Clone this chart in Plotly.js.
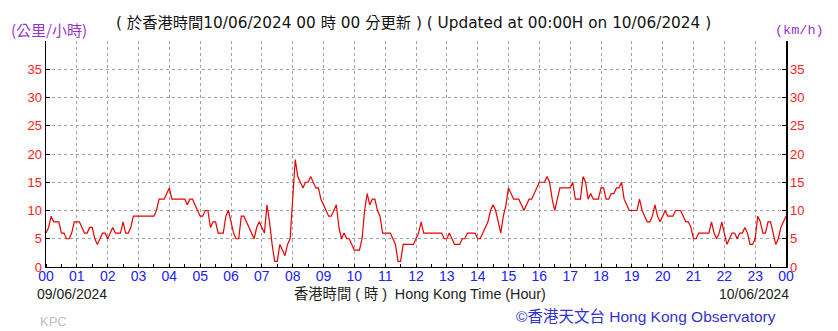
<!DOCTYPE html>
<html>
<head>
<meta charset="utf-8">
<script src="https://cdn.plot.ly/plotly-3.0.1.min.js"></script>
<style>
html,body{margin:0;padding:0;background:#fff;}
#chart{width:838px;height:331px;}
</style>
</head>
<body>
<div id="chart"></div>
<script>
// 5-minute mean wind speed (km/h), 09/06/2024 00:00 -> 10/06/2024 00:00
const windSpeed = [
  6,7,9,8,8,8,6,6,5,5,
  6,8,8,8,7,6,6,7,7,5,
  4,5,6,6,5,6,7,6,6,6,
  8,6,6,7,9,9,9,9,9,9,
  9,9,9,10,12,12,12,13,14,12,
  12,12,12,12,12,11,12,12,11,10,
  9,9,10,10,7,8,8,6,6,6,
  9,10,8,6,5,5,9,9,8,7,
  6,5,7,8,7,6,11,8,4,1,
  1,4,3,2,4,5,12,19,16,15,
  14,15,15,16,15,14,14,12,11,10,
  9,9,10,11,7,5,6,5,5,4,
  3,3,3,5,10,13,11,12,12,10,
  9,6,6,6,6,5,4,1,1,4,
  4,4,4,4,5,6,8,6,6,6,
  6,6,6,6,6,5,5,6,5,4,
  4,4,5,5,6,6,6,6,5,5,
  6,7,8,10,11,10,8,6,9,11,
  14,13,12,12,12,11,10,11,12,12,
  13,14,15,15,15,16,15,12,10,12,
  14,14,14,14,14,15,12,12,12,16,
  15,12,13,12,12,12,14,14,12,12,
  13,13,14,14,15,12,11,10,10,10,
  10,12,10,9,8,8,9,11,9,8,
  9,10,9,9,9,10,10,10,9,8,
  8,7,5,5,6,6,6,6,6,8,
  6,5,6,8,6,4,5,6,6,5,
  6,6,7,6,4,4,5,9,8,6,
  6,8,8,6,4,5,7,8,9
];
const stepMinutes = 5;
const hourLabels = ['00','01','02','03','04','05','06','07','08','09','10','11',
                    '12','13','14','15','16','17','18','19','20','21','22','23','00'];
const speedTicks = [0,5,10,15,20,25,30,35];

const hours = windSpeed.map((v,i)=> i*stepMinutes/60);
const hourVals = hourLabels.map((_,i)=>i);

// plot box in pixels
const L=46, R=786, T=41, B=267.5, W=838, H=331;
const px = x => (x-L)/(R-L);
const py = y => (B-y)/(B-T);

const trace = {
  x: hours, y: windSpeed, type:'scatter', mode:'lines',
  line:{color:'#e60000', width:1.2, shape:'linear'},
  hoverinfo:'skip', showlegend:false
};
const ghost = {
  x:[0,24], y:[0,0], yaxis:'y2', type:'scatter', mode:'lines',
  line:{width:0}, hoverinfo:'skip', showlegend:false
};

const gridCol = '#a0a0a0';
const layout = {
  width:W, height:H,
  margin:{l:L, r:W-R, t:T, b:H-B, pad:0},
  paper_bgcolor:'#ffffff', plot_bgcolor:'#ffffff',
  showlegend:false,
  xaxis:{
    range:[0,24], tickmode:'array', tickvals:hourVals, ticktext:hourLabels,
    showgrid:true, gridcolor:gridCol, griddash:'dot', gridwidth:1,
    showline:true, linecolor:'#000', linewidth:1, mirror:false,
    zeroline:false, ticks:'', ticklen:0, ticklabelstandoff:-4,
    tickfont:{family:'Liberation Sans, Arial, sans-serif', size:14, color:'#2020ff'},
    minor:{dtick:0.5, tick0:0, ticks:'inside', ticklen:3, tickcolor:'#000', showgrid:false},
    fixedrange:true
  },
  yaxis:{
    range:[0,40], tickmode:'array', tickvals:speedTicks,
    showgrid:true, gridcolor:gridCol, griddash:'dot', gridwidth:1,
    showline:true, linecolor:'#000', linewidth:1.5,
    zeroline:false, ticks:'inside', ticklen:4, tickcolor:'#000',
    tickfont:{family:'Liberation Sans, Arial, sans-serif', size:13, color:'#ff2020'},
    fixedrange:true
  },
  yaxis2:{
    range:[0,40], overlaying:'y', side:'right', tickmode:'array', tickvals:speedTicks,
    showgrid:false, showline:true, linecolor:'#000', linewidth:1.5,
    zeroline:false, ticks:'inside', ticklen:4, tickcolor:'#000',
    tickfont:{family:'Liberation Sans, Arial, sans-serif', size:13, color:'#ff2020'},
    fixedrange:true
  },
  annotations:[
    {text:'(公里/小時)', xref:'paper', yref:'paper', x:px(49), y:py(29), xanchor:'center', yanchor:'middle',
     showarrow:false, font:{family:'Noto Sans CJK TC, sans-serif', size:15, color:'#9933cc'}},
    {text:'( 於香港時間10/06/2024 00 時 00 分更新 ) ( Updated at 00:00H on 10/06/2024 )',
     xref:'paper', yref:'paper', x:px(413), y:py(23), xanchor:'center', yanchor:'middle',
     showarrow:false, font:{family:'DejaVu Sans, Noto Sans CJK TC, sans-serif', size:15.3, color:'#111'}},
    {text:'(km/h)', xref:'paper', yref:'paper', x:px(799), y:py(30), xanchor:'center', yanchor:'middle',
     showarrow:false, font:{family:'Liberation Mono, Courier New, monospace', size:13.5, color:'#9933cc'}},
    {text:'09/06/2024', xref:'paper', yref:'paper', x:px(35), y:py(295), xanchor:'left', yanchor:'middle',
     showarrow:false, font:{family:'Liberation Sans, Arial, sans-serif', size:14, color:'#222'}},
    {text:'香港時間 ( 時 )  Hong Kong Time (Hour)', xref:'paper', yref:'paper', x:px(420), y:py(295), xanchor:'center', yanchor:'middle',
     showarrow:false, font:{family:'Liberation Sans, Noto Sans CJK TC, sans-serif', size:14.3, color:'#222'}},
    {text:'10/06/2024', xref:'paper', yref:'paper', x:px(791), y:py(295), xanchor:'right', yanchor:'middle',
     showarrow:false, font:{family:'Liberation Sans, Arial, sans-serif', size:14, color:'#222'}},
    {text:'KPC', xref:'paper', yref:'paper', x:px(38), y:py(322), xanchor:'left', yanchor:'middle',
     showarrow:false, font:{family:'Liberation Sans, Arial, sans-serif', size:13, color:'#c0c0c0'}},
    {text:'©香港天文台 Hong Kong Observatory', xref:'paper', yref:'paper', x:px(778), y:py(317), xanchor:'right', yanchor:'middle',
     showarrow:false, font:{family:'Liberation Sans, Noto Sans CJK TC, sans-serif', size:15.5, color:'#3333cc'}}
  ]
};

Plotly.newPlot('chart', [trace, ghost], layout, {staticPlot:true, displayModeBar:false});
</script>
</body>
</html>
